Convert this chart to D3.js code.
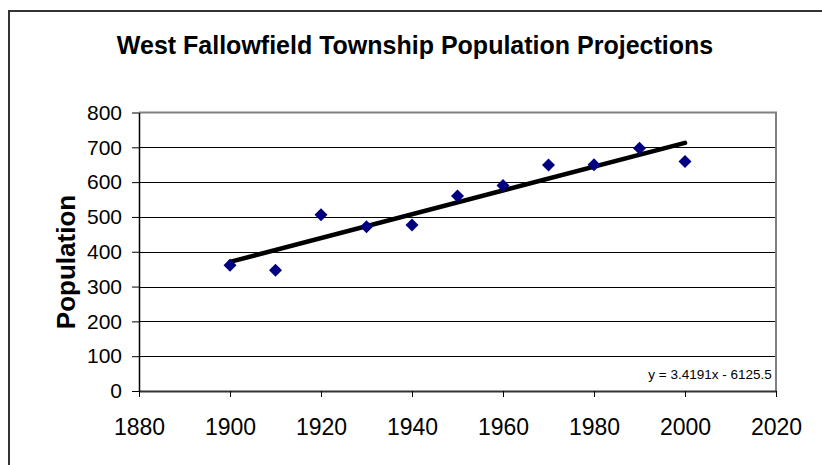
<!DOCTYPE html>
<html>
<head>
<meta charset="utf-8">
<script src="https://cdn.jsdelivr.net/npm/d3@7"></script>
<style>
  body { margin: 0; background: #fff; }
  svg { display: block; font-family: "Liberation Sans", Arial, sans-serif; }
</style>
</head>
<body>
<svg></svg>
<script>
let years = [1900, 1910, 1920, 1930, 1940, 1950, 1960, 1970, 1980, 1990, 2000]
let population = [361, 347, 506, 472, 477, 560, 590, 649, 650, 697, 659]
let xTicks = [1880, 1900, 1920, 1940, 1960, 1980, 2000, 2020]
let yTicks = [0, 100, 200, 300, 400, 500, 600, 700, 800]
let trendSlope = 3.4191
let trendIntercept = -6125.5

let width = 822
let height = 465
let plotLeft = 139
let plotRight = 776
let plotTop = 112.5
let plotBottom = 391

let svg = d3.select("svg").attr("width", width).attr("height", height)

// outer chart frame (runs off the right and bottom of the picture)
svg.append("rect")
  .attr("x", 9).attr("y", 11)
  .attr("width", 900).attr("height", 600)
  .attr("fill", "none").attr("stroke", "#333").attr("stroke-width", 2)

let xScale = d3.scaleLinear().domain([1880, 2020]).range([plotLeft, plotRight])
let yScale = d3.scaleLinear().domain([0, 800]).range([plotBottom, plotTop])

// gridlines
svg.append("g")
  .selectAll("line")
  .data(yTicks.filter(d => d > 0 && d < 800))
  .enter()
  .append("line")
  .attr("x1", plotLeft).attr("x2", plotRight)
  .attr("y1", d => Math.round(yScale(d)) + 0.5)
  .attr("y2", d => Math.round(yScale(d)) + 0.5)
  .attr("stroke", "#000").attr("stroke-width", 1)

// plot area border (top and right)
svg.append("path")
  .attr("d", "M" + plotLeft + "," + plotTop + "H" + plotRight + "V" + plotBottom)
  .attr("fill", "none").attr("stroke", "#808080").attr("stroke-width", 2)

let xAxis = d3.axisBottom(xScale).tickValues(xTicks).tickFormat(d3.format("d")).tickSize(6).tickSizeOuter(0)
let gx = svg.append("g")
  .attr("transform", "translate(0," + plotBottom + ")")
  .call(xAxis)
gx.select(".domain").attr("stroke", "#333").attr("stroke-width", 2)
gx.selectAll(".tick line").attr("stroke", "#000")
gx.selectAll("text").attr("font-size", 23).attr("fill", "#000").attr("y", 44).attr("dy", 0)
  .attr("font-family", "Liberation Sans, Arial, sans-serif")

let yAxis = d3.axisLeft(yScale).tickValues(yTicks).tickSize(7).tickSizeOuter(0)
let gy = svg.append("g")
  .attr("transform", "translate(" + plotLeft + ",0)")
  .call(yAxis)
gy.select(".domain").attr("stroke", "#000").attr("stroke-width", 1.5)
gy.selectAll(".tick line").attr("stroke", "#000")
gy.selectAll("text").attr("font-size", 21).attr("fill", "#000").attr("x", -17)
  .attr("font-family", "Liberation Sans, Arial, sans-serif")

// linear trendline
let trendYears = [years[0], years[years.length - 1]]
svg.append("line")
  .attr("x1", xScale(trendYears[0]))
  .attr("y1", yScale(trendSlope * trendYears[0] + trendIntercept))
  .attr("x2", xScale(trendYears[1]))
  .attr("y2", yScale(trendSlope * trendYears[1] + trendIntercept))
  .attr("stroke", "#000").attr("stroke-width", 4.5).attr("stroke-linecap", "round")

// diamond markers
svg.append("g")
  .selectAll("path")
  .data(years)
  .enter()
  .append("path")
  .attr("d", "M0,-6.5L6.5,0L0,6.5L-6.5,0Z")
  .attr("transform", (d, i) => "translate(" + xScale(d) + "," + yScale(population[i]) + ")")
  .attr("fill", "#000080")

// trend equation label
svg.append("text")
  .attr("x", 710).attr("y", 379)
  .attr("text-anchor", "middle")
  .attr("font-size", 13.5)
  .text("y = " + trendSlope + "x - " + Math.abs(trendIntercept))

svg.append("text")
  .attr("x", 415).attr("y", 54)
  .attr("text-anchor", "middle")
  .attr("font-size", 25).attr("font-weight", "bold")
  .text("West Fallowfield Township Population Projections")

svg.append("text")
  .attr("transform", "translate(75,262) rotate(-90)")
  .attr("text-anchor", "middle")
  .attr("font-size", 26).attr("font-weight", "bold")
  .text("Population")
</script>
</body>
</html>
